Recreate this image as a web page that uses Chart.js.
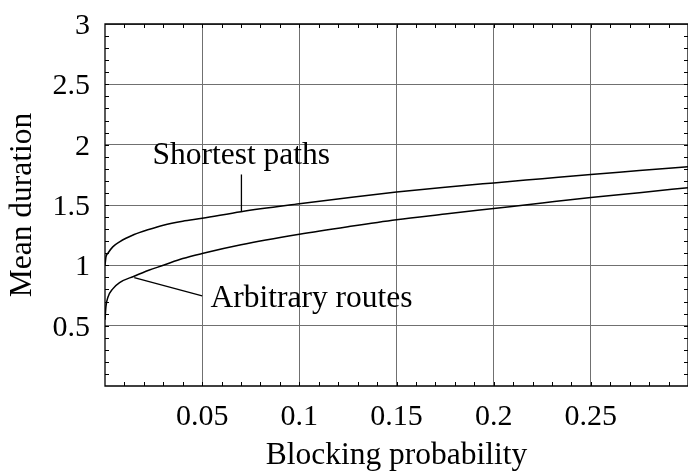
<!DOCTYPE html>
<html>
<head>
<meta charset="utf-8">
<script src="https://cdn.jsdelivr.net/npm/chart.js@4.4.1/dist/chart.umd.min.js"></script>
<style>
  html, body { margin: 0; padding: 0; background: #fff; }
</style>
</head>
<body>
<canvas id="myChart" width="688" height="471"></canvas>
<script>
// data
var blockProb = [0, 0.0005, 0.0015, 0.004, 0.0075, 0.015, 0.0225, 0.03, 0.04, 0.05,
    0.07, 0.1, 0.125, 0.15, 0.175, 0.2, 0.225, 0.25, 0.275, 0.3];
var shortestPaths = [1.0, 1.07, 1.10, 1.153, 1.195, 1.255, 1.297, 1.333, 1.366, 1.39,
    1.445, 1.51, 1.56, 1.607, 1.647, 1.683, 1.718, 1.753, 1.785, 1.818];
var arbitraryRoutes = [0.55, 0.66, 0.735, 0.805, 0.857, 0.91, 0.959, 1.0, 1.056, 1.098,
    1.17, 1.257, 1.32, 1.378, 1.425, 1.471, 1.517, 1.562, 1.602, 1.644];
var xTickValues = [0.05, 0.1, 0.15, 0.2, 0.25];
var yTickValues = [0.5, 1, 1.5, 2, 2.5, 3];

// curve labels, in data units
var notes = [
    { text: 'Shortest paths', x: 0.0244, y: 1.836, from: [0.0702, 1.753], to: [0.0702, 1.445] },
    { text: 'Arbitrary routes', x: 0.0543, y: 0.657, from: [0.05, 0.746], to: [0.01505, 0.899] }
];

var serif = "'Liberation Serif', 'Times New Roman', serif";
Chart.defaults.font.family = serif;
Chart.defaults.color = '#000';

function points(ys) {
    return blockProb.map(function (x, i) { return { x: x, y: ys[i] }; });
}

// frame, minor ticks and the two curve labels
var frameAndNotes = {
    id: 'frameAndNotes',
    afterDraw: function (chart) {
        var ctx = chart.ctx, a = chart.chartArea;
        var xs = chart.scales.x, ys = chart.scales.y;
        ctx.save();
        ctx.strokeStyle = '#000';
        ctx.lineWidth = 1.3;
        ctx.beginPath();
        ctx.rect(a.left, a.top, a.right - a.left, a.bottom - a.top);
        ctx.stroke();

        ctx.lineWidth = 1;
        ctx.beginPath();
        for (var i = 1; i < 30; i++) {
            var px = Math.round(xs.getPixelForValue(i * 0.01)) + 0.5;
            ctx.moveTo(px, a.bottom); ctx.lineTo(px, a.bottom - 4);
            ctx.moveTo(px, a.top); ctx.lineTo(px, a.top + 4);
            var py = Math.round(ys.getPixelForValue(i * 0.1)) + 0.5;
            ctx.moveTo(a.left, py); ctx.lineTo(a.left + 4, py);
            ctx.moveTo(a.right, py); ctx.lineTo(a.right - 4, py);
        }
        ctx.stroke();

        ctx.font = '31.5px ' + serif;
        ctx.fillStyle = '#000';
        ctx.textBaseline = 'alphabetic';
        ctx.textAlign = 'left';
        ctx.lineWidth = 1.3;
        notes.forEach(function (n) {
            ctx.fillText(n.text, xs.getPixelForValue(n.x), ys.getPixelForValue(n.y));
            ctx.beginPath();
            ctx.moveTo(xs.getPixelForValue(n.from[0]), ys.getPixelForValue(n.from[1]));
            ctx.lineTo(xs.getPixelForValue(n.to[0]), ys.getPixelForValue(n.to[1]));
            ctx.stroke();
        });
        ctx.restore();
    }
};

var ctx = document.getElementById('myChart').getContext('2d');
var chart = new Chart(ctx, {
    type: 'line',
    data: {
        datasets: [{
            label: 'Shortest paths',
            data: points(shortestPaths),
            borderColor: '#000',
            borderWidth: 1.5,
            pointRadius: 0,
            fill: false,
            cubicInterpolationMode: 'monotone'
        }, {
            label: 'Arbitrary routes',
            data: points(arbitraryRoutes),
            borderColor: '#000',
            borderWidth: 1.5,
            pointRadius: 0,
            fill: false,
            cubicInterpolationMode: 'monotone'
        }]
    },
    options: {
        responsive: false,
        animation: false,
        devicePixelRatio: 1,
        layout: { padding: { top: 24, right: -4, left: 0, bottom: 0 } },
        plugins: {
            legend: { display: false },
            tooltip: { enabled: false }
        },
        scales: {
            x: {
                type: 'linear',
                min: 0,
                max: 0.3,
                afterBuildTicks: function (s) {
                    s.ticks = xTickValues.map(function (v) { return { value: v }; });
                },
                afterFit: function (s) {
                    s.height = 85;
                    s.paddingLeft = 0;
                    s.paddingRight = 0;
                },
                grid: { color: '#707070', lineWidth: 1, drawTicks: false },
                border: { display: false },
                ticks: {
                    font: { size: 30 },
                    padding: 13,
                    maxRotation: 0,
                    callback: function (v) { return String(v); }
                },
                title: {
                    display: true,
                    text: 'Blocking probability',
                    font: { size: 31.5, lineHeight: 1 },
                    padding: { top: 0, bottom: 0 }
                }
            },
            y: {
                type: 'linear',
                min: 0,
                max: 3,
                afterBuildTicks: function (s) {
                    s.ticks = yTickValues.map(function (v) { return { value: v }; });
                },
                afterFit: function (s) {
                    s.width = 105;
                    s.paddingTop = 0;
                    s.paddingBottom = 0;
                },
                grid: { color: '#707070', lineWidth: 1, drawTicks: false },
                border: { display: false },
                ticks: {
                    font: { size: 30 },
                    padding: 15,
                    labelOffset: 2,
                    callback: function (v) { return String(v); }
                },
                title: {
                    display: true,
                    text: 'Mean duration',
                    font: { size: 31.5, lineHeight: 1 },
                    padding: { top: 7, bottom: 0 }
                }
            }
        }
    },
    plugins: [frameAndNotes]
});
</script>
</body>
</html>
